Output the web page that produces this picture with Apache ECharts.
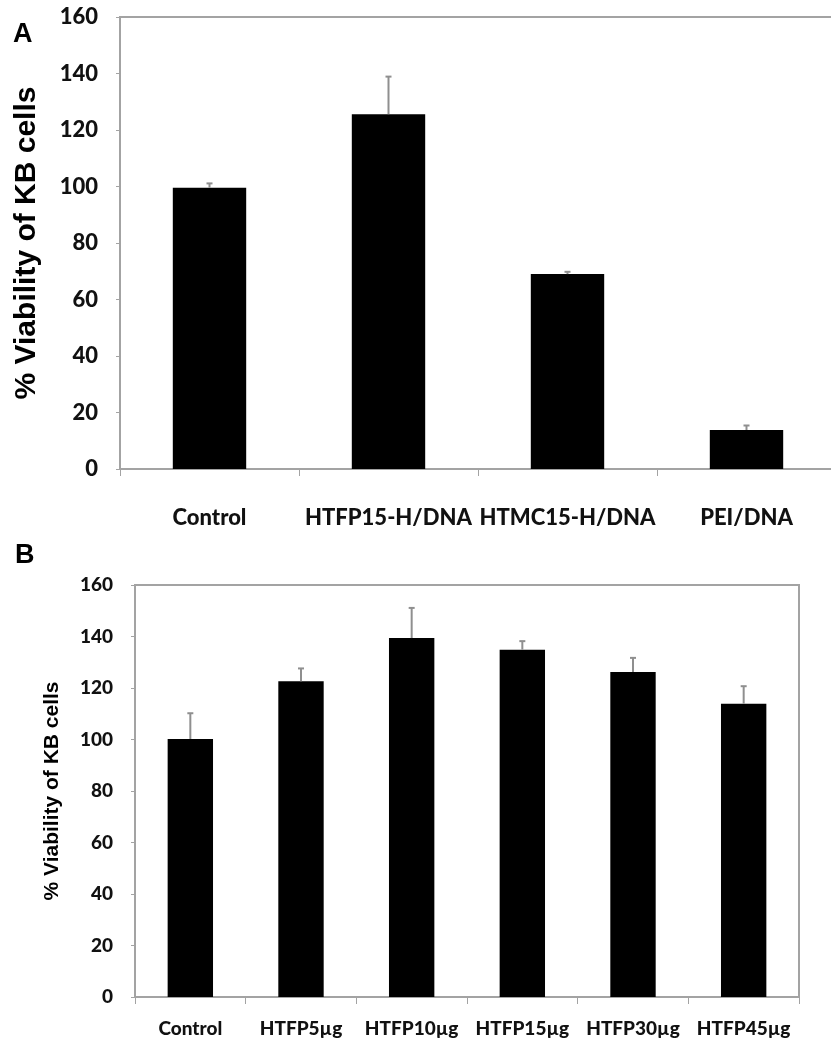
<!DOCTYPE html>
<html>
<head>
<meta charset="utf-8">
<script src="https://cdn.jsdelivr.net/npm/echarts@6/dist/echarts.min.js"></script>
<style>
  html, body { margin: 0; padding: 0; background: #fff; overflow: hidden; }
  /* panel A's frame runs slightly past the right edge of the page */
  #chart { width: 842px; height: 1048px; }
</style>
</head>
<body>
<div id="chart"></div>
<script>
// Panel A: viability after transfection complexes
const categoriesA = ['Control', 'HTFP15-H/DNA', 'HTMC15-H/DNA', 'PEI/DNA'];
const valuesA = [99.6, 125.6, 69.0, 13.8];
const errorsA = [1.5, 13.3, 0.8, 1.6];

// Panel B: viability vs. HTFP dose
const categoriesB = ['Control', 'HTFP5µg', 'HTFP10µg', 'HTFP15µg', 'HTFP30µg', 'HTFP45µg'];
const valuesB = [100.2, 122.6, 139.4, 134.9, 126.2, 113.9];
const errorsB = [10.0, 5.0, 11.7, 3.3, 5.5, 6.8];

// Shared value axis ticks
const yTicks = [0, 20, 40, 60, 80, 100, 120, 140, 160];

const AXIS_GREY = '#a3a3a3';
const LABEL_FONT = 'Lato';
const NAME_FONT = 'Liberation Sans';

function valueAxis(gridIndex, fontSize, nameSize, nameGap) {
  return {
    type: 'value',
    gridIndex: gridIndex,
    min: yTicks[0],
    max: yTicks[yTicks.length - 1],
    interval: yTicks[1] - yTicks[0],
    name: '% Viability of KB cells',
    nameLocation: 'middle',
    nameGap: nameGap,
    nameTextStyle: { fontFamily: NAME_FONT, fontWeight: 'bold', fontSize: nameSize, color: '#000' },
    axisLine: { show: true, lineStyle: { color: AXIS_GREY, width: 2 } },
    axisTick: { show: true, length: 4, lineStyle: { color: AXIS_GREY, width: 1 } },
    axisLabel: { fontFamily: LABEL_FONT, fontWeight: 900, fontSize: fontSize, color: '#111', margin: 22 },
    splitLine: { show: false }
  };
}

function categoryAxis(gridIndex, cats, fontSize, margin) {
  return {
    type: 'category',
    gridIndex: gridIndex,
    data: cats,
    axisLine: { show: true, lineStyle: { color: AXIS_GREY, width: 2 } },
    axisTick: { show: true, length: 7, alignWithLabel: false, lineStyle: { color: AXIS_GREY, width: 1 } },
    axisLabel: { fontFamily: LABEL_FONT, fontWeight: 900, fontSize: fontSize, color: '#111', margin: margin, interval: 0 }
  };
}

function errorSeries(axisIndex, values, errors, capHalf) {
  return {
    type: 'custom',
    xAxisIndex: axisIndex,
    yAxisIndex: axisIndex,
    z: 5,
    data: values.map((v, i) => [i, v, v + errors[i]]),
    renderItem: function (params, api) {
      const base = api.coord([api.value(0), api.value(1)]);
      const top = api.coord([api.value(0), api.value(2)]);
      const style = { stroke: '#8f8f8f', lineWidth: 2 };
      return {
        type: 'group',
        children: [
          { type: 'line', shape: { x1: base[0], y1: base[1], x2: top[0], y2: top[1] }, style: style },
          { type: 'line', shape: { x1: top[0] - capHalf, y1: top[1], x2: top[0] + capHalf, y2: top[1] }, style: style }
        ]
      };
    }
  };
}

const chart = echarts.init(document.getElementById('chart'), null, { renderer: 'canvas' });

chart.setOption({
  animation: false,
  backgroundColor: '#fff',
  title: [
    { text: 'A', left: 8, top: 16, textStyle: { fontFamily: NAME_FONT, fontWeight: 'bold', fontSize: 27, color: '#000' } },
    { text: 'B', left: 10, top: 537, textStyle: { fontFamily: NAME_FONT, fontWeight: 'bold', fontSize: 27, color: '#000' } }
  ],
  grid: [
    { left: 120, top: 17, width: 716, height: 452, show: true, borderColor: AXIS_GREY, borderWidth: 2, containLabel: false },
    { left: 135, top: 585, width: 664, height: 412, show: true, borderColor: AXIS_GREY, borderWidth: 2, containLabel: false }
  ],
  xAxis: [
    categoryAxis(0, categoriesA, 22, 38),
    categoryAxis(1, categoriesB, 19, 22)
  ],
  yAxis: [
    valueAxis(0, 22, 30, 78),
    valueAxis(1, 19, 21, 72)
  ],
  series: [
    {
      type: 'bar', xAxisIndex: 0, yAxisIndex: 0, data: valuesA,
      barCategoryGap: '59%', itemStyle: { color: '#000' }
    },
    errorSeries(0, valuesA, errorsA, 3),
    {
      type: 'bar', xAxisIndex: 1, yAxisIndex: 1, data: valuesB,
      barCategoryGap: '59%', itemStyle: { color: '#000' }
    },
    errorSeries(1, valuesB, errorsB, 3)
  ]
});
</script>
</body>
</html>
